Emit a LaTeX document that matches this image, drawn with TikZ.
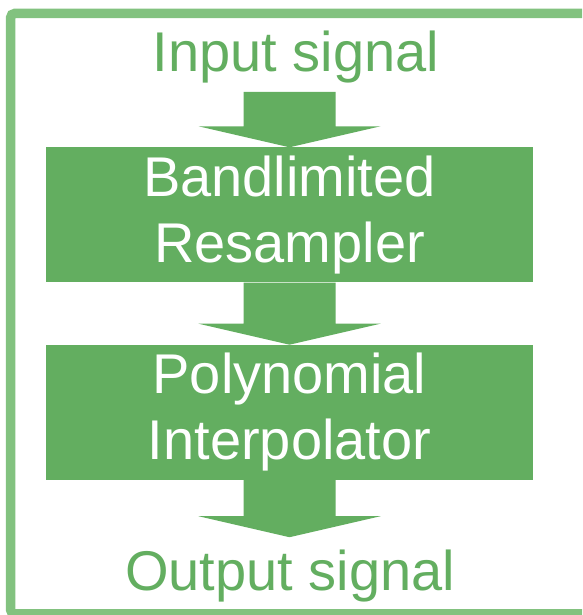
\documentclass[tikz,border=0pt]{standalone}
\usepackage{fontspec}
\setmainfont{Liberation Sans}
\usepackage{tikz}
\usetikzlibrary{positioning, calc}
\definecolor{boxgreen}{RGB}{99,174,96}
\definecolor{framegreen}{RGB}{130,194,127}
\tikzset{
    stage/.style={rectangle, fill=boxgreen, text=white, inner sep=0pt, minimum width=487pt, minimum height=135pt, align=center, font=\fontsize{56}{66}\selectfont},
    signal/.style={text=boxgreen, inner sep=0pt, anchor=base, font=\fontsize{56}{66}\selectfont},
    frame/.style={draw=framegreen, line width=9.5pt, rounded corners=4pt},
}
% block arrow from a start point down to a tip
\newcommand{\flowarrow}[2]{%
    \fill[boxgreen] let \p1=(#1), \p2=(#2) in
        (\x1-46,\y1) -- (\x1+46,\y1) -- (\x1+46,\y2+21) -- (\x1+91,\y2+21)
        -- (\x1,\y2) -- (\x1-91,\y2+21) -- (\x1-46,\y2+21) -- cycle;}
\begin{document}
\begin{tikzpicture}[x=1pt, y=1pt]
    \useasboundingbox (0,0) rectangle (582,615);
    \clip (0,0) rectangle (582,615);
    \draw[frame] (10.7,1) rectangle (598,601.5);

    \node [stage] (bandlim) at (289.5,400) {Bandlimited\\Resampler};
    \node [stage] (poly) [below=62pt of bandlim] {Polynomial\\Interpolator};
    \node [signal] (input) at (296,543) {Input signal};
    \node [signal] (output) at (290,24) {Output signal};

    \coordinate (instart) at ([yshift=-8pt]input.south -| bandlim.north);
    \coordinate (outtip) at ([yshift=13pt]output.north -| poly.south);
    \flowarrow{instart}{bandlim.north}
    \flowarrow{bandlim.south}{poly.north}
    \flowarrow{poly.south}{outtip}
\end{tikzpicture}
\end{document}
